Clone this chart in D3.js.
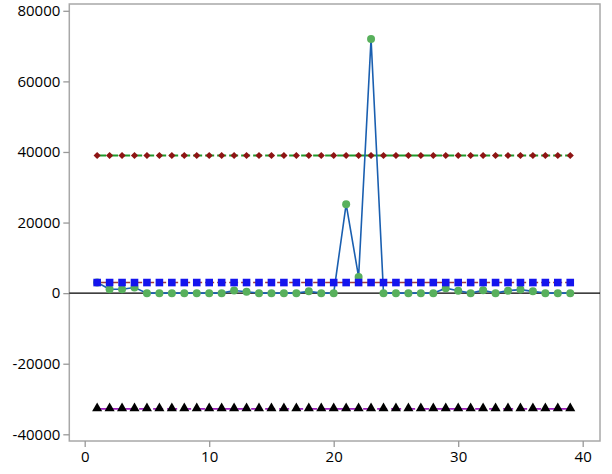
<!DOCTYPE html>
<html><head><meta charset="utf-8">
<script src="https://cdn.jsdelivr.net/npm/d3@7"></script>
<style>body{margin:0;background:#fff}svg{display:block}text{font-family:"Open Sans",sans-serif}</style>
</head><body><svg id="c" width="612" height="474"></svg>
<script>
const xs = d3.range(1, 40);
const diamondVals = xs.map(() => 39000);
const squareVals = xs.map(() => 3000);
const triangleVals = xs.map(() => -32800);
const circleVals = [3000,1100,1100,1600,0,0,0,0,0,0,0,750,400,0,0,0,0,500,0,0,25200,4600,72000,0,0,0,0,0,1400,700,0,800,0,700,1000,500,0,0,0];
const xTicks = [0,10,20,30,40];
const yTicks = [-40000,-20000,0,20000,40000,60000,80000];

const svg = d3.select("#c");
const L=69.3,R=600,T=4,B=441;
const x = d3.scaleLinear().domain([0,40]).range([84.7,582.7]);
const y = d3.scaleLinear().domain([-40000,80000]).range([434.3,10.8]);

svg.append("rect").attr("x",L).attr("y",T).attr("width",R-L).attr("height",B-T)
  .attr("fill","none").attr("stroke","#a8a8a8").attr("stroke-width",1.5);

const fmt = d => String(d);
const xa = svg.append("g").attr("transform",`translate(0,${B})`)
  .call(d3.axisBottom(x).tickValues(xTicks).tickSize(6).tickPadding(4).tickFormat(fmt));
const ya = svg.append("g").attr("transform",`translate(${L},0)`)
  .call(d3.axisLeft(y).tickValues(yTicks).tickSize(6).tickPadding(3).tickFormat(fmt));
[xa,ya].forEach(a=>{a.select(".domain").remove();
  a.selectAll(".tick line").attr("stroke","#999").attr("stroke-width",1.3);
  a.selectAll("text").attr("font-size",15).attr("fill","#000").attr("font-family","'Open Sans',sans-serif");});

// zero line
svg.append("line").attr("x1",L).attr("x2",R).attr("y1",y(0)).attr("y2",y(0)).attr("stroke","#000").attr("stroke-width",1.3);

const line = d3.line().x((d,i)=>x(xs[i])).y(d=>y(d));

function series(vals, lineColor, dash, width){
  svg.append("path").attr("d",line(vals)).attr("fill","none").attr("stroke",lineColor)
    .attr("stroke-width",width).attr("stroke-dasharray",dash);
}
series(diamondVals,"#1e9a2a","9,3",2);
series(triangleVals,"#a020c0","10,4",1.6);
series(squareVals,"#a03a3a","9,3",1.6);
series(circleVals,"#1a5fb0",null,1.6);

// circles
svg.append("g").selectAll("circle").data(circleVals).join("circle")
  .attr("cx",(d,i)=>x(xs[i])).attr("cy",d=>y(d)).attr("r",4).attr("fill","#58b05c");
// squares
svg.append("g").selectAll("rect").data(squareVals).join("rect")
  .attr("x",(d,i)=>x(xs[i])-3.8).attr("y",d=>y(d)-3.8).attr("width",7.6).attr("height",7.6).attr("fill","#1414ee");
// diamonds (rotated squares)
const dsym = d3.symbol().type(d3.symbolSquare).size(26);
svg.append("g").selectAll("path").data(diamondVals).join("path")
  .attr("transform",(d,i)=>`translate(${x(xs[i])},${y(d)}) rotate(45)`).attr("d",dsym).attr("fill","#8e1414");
// triangles
const tsym = d3.symbol().type(d3.symbolTriangle).size(44);
svg.append("g").selectAll("path").data(triangleVals).join("path")
  .attr("transform",(d,i)=>`translate(${x(xs[i])},${y(d)-0.5})`).attr("d",tsym).attr("fill","#000");
</script></body></html>
